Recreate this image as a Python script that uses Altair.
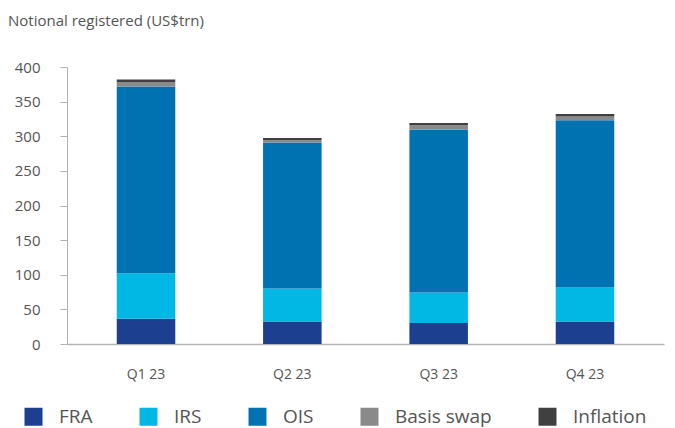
import altair as alt
import pandas as pd

quarters = ["Q1 23", "Q2 23", "Q3 23", "Q4 23"]
series = ["FRA", "IRS", "OIS", "Basis swap", "Inflation"]
colors = ["#1d3f8f", "#00b8e3", "#0072b2", "#8a8a8a", "#404040"]

fra = [36.5, 32.5, 30.5, 32.5]
irs = [65.5, 47.5, 44.0, 49.0]
ois = [270.0, 211.0, 235.0, 241.5]
basis = [6.5, 3.5, 6.5, 5.5]
inflation = [3.5, 3.0, 3.0, 3.5]
y_ticks = [0, 50, 100, 150, 200, 250, 300, 350, 400]

values = [fra, irs, ois, basis, inflation]
rows = []
for si, (s, vals) in enumerate(zip(series, values)):
    for q, v in zip(quarters, vals):
        rows.append({"quarter": q, "series": s, "value": v, "order": si})
df = pd.DataFrame(rows)

FONT = "Open Sans"
TXT = "#555555"

chart = alt.Chart(df).mark_bar().encode(
    x=alt.X("quarter:N", sort=quarters,
            scale=alt.Scale(paddingInner=0.6, paddingOuter=0.34),
            axis=alt.Axis(title=None, labelAngle=0, ticks=False, labelPadding=23,
                          domainColor="#b3b3b3", domainWidth=1.5,
                          labelFontSize=14, labelColor=TXT, labelFont=FONT)),
    y=alt.Y("value:Q", stack="zero",
            scale=alt.Scale(domain=[0, 400], nice=False),
            axis=alt.Axis(title=None, values=y_ticks, grid=False, tickSize=7,
                          tickColor="#b3b3b3", domainColor="#b3b3b3",
                          labelPadding=20, labelFontSize=15, labelColor=TXT,
                          labelFont=FONT)),
    color=alt.Color("series:N", sort=series,
                    scale=alt.Scale(domain=series, range=colors),
                    legend=alt.Legend(title=None, orient="none", direction="horizontal",
                                      columns=5, legendX=-43, legendY=63 + 277,
                                      symbolType="square", symbolSize=324,
                                      symbolStrokeWidth=0, symbolOpacity=1,
                                      labelFontSize=19, labelColor=TXT, labelFont=FONT,
                                      labelOffset=16, columnPadding=46)),
    order=alt.Order("order:Q"),
).properties(
    width=597,
    height=277,
    title=alt.TitleParams("Notional registered (US$trn)", anchor="start", frame="group",
                          dx=-59, offset=31, fontSize=15, fontWeight="normal",
                          color=TXT, font=FONT),
    autosize=alt.AutoSizeParams(type="none"),
    padding={"left": 59, "top": 59, "right": 3, "bottom": 84},
).configure_view(stroke=None)

chart.save("out.html", embed_options={"renderer": "svg", "actions": False})
